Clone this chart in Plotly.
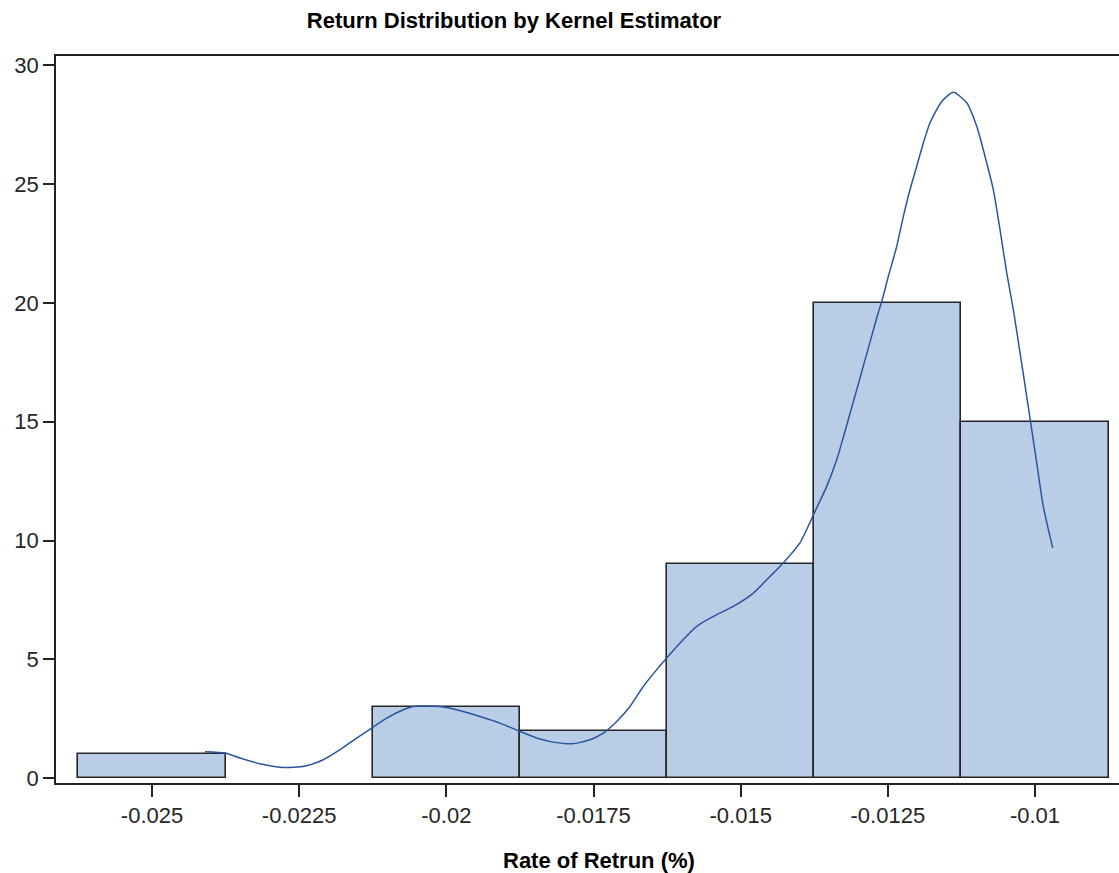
import plotly.graph_objects as go

# Histogram bins (centers) and counts
bin_centers = [-0.025, -0.0225, -0.02, -0.0175, -0.015, -0.0125, -0.01]
bin_counts = [1, 0, 3, 2, 9, 20, 15]
bin_width = 0.0025

# Kernel density curve
kde_x = [-0.02410, -0.02376, -0.023505, -0.023165, -0.022826, -0.02260, -0.022372,
         -0.02209, -0.021806, -0.021523, -0.021268, -0.021013, -0.020731, -0.020561,
         -0.020107, -0.019824, -0.019428, -0.019088, -0.018748, -0.018409, -0.018183,
         -0.017865, -0.017559, -0.017333, -0.017106, -0.01688, -0.016654, -0.016426,
         -0.016256, -0.01603, -0.015747, -0.015465, -0.015125, -0.014785, -0.014502,
         -0.014276, -0.013994, -0.013737, -0.013538, -0.013369, -0.013256, -0.013142,
         -0.013028, -0.012916, -0.012803, -0.012662, -0.012604, -0.012491, -0.012349,
         -0.012236, -0.012123, -0.012009, -0.011897, -0.011783, -0.011584, -0.011387,
         -0.01116, -0.01099, -0.01082, -0.010708, -0.010594, -0.01048, -0.010368,
         -0.010254, -0.010141, -0.010085, -0.009971, -0.009859, -0.009699]
kde_y = [1.12, 1.06, 0.85, 0.61, 0.46, 0.46, 0.53,
         0.78, 1.20, 1.69, 2.11, 2.53, 2.88, 3.02,
         3.02, 2.88, 2.60, 2.32, 1.97, 1.65, 1.52,
         1.45, 1.62, 1.90, 2.39, 3.02, 3.86, 4.57,
         5.06, 5.69, 6.39, 6.81, 7.23, 7.79, 8.49,
         9.06, 9.90, 11.23, 12.28, 13.40, 14.35, 15.35,
         16.35, 17.35, 18.35, 19.60, 20.05, 21.12, 22.38,
         23.64, 24.77, 25.75, 26.73, 27.58, 28.48, 28.86,
         28.42, 27.43, 25.89, 24.77, 23.08, 21.26, 19.72,
         17.90, 16.07, 15.15, 13.27, 11.44, 9.69]

x_tick_vals = [-0.025, -0.0225, -0.02, -0.0175, -0.015, -0.0125, -0.01]
x_tick_text = ["-0.025", "-0.0225", "-0.02", "-0.0175", "-0.015", "-0.0125", "-0.01"]
y_tick_vals = [0, 5, 10, 15, 20, 25, 30]

title_text = "Return Distribution by Kernel Estimator"
x_title = "Rate of Retrun (%)"

W, H = 1119, 873
ML, MR, MT, MB = 56, 0, 56, 90

bx = [c for c, n in zip(bin_centers, bin_counts) if n > 0]
by = [n for n in bin_counts if n > 0]

FONT = "Liberation Sans, Arial, sans-serif"

fig = go.Figure()
fig.add_trace(go.Bar(
    x=bx, y=by, width=bin_width,
    marker=dict(color="#B9CEE6", line=dict(color="#262626", width=1.6)),
    hoverinfo="skip", showlegend=False,
))
fig.add_trace(go.Scatter(
    x=kde_x, y=kde_y, mode="lines",
    line=dict(color="#2A559E", width=1.5, shape="spline", smoothing=0.6),
    hoverinfo="skip", showlegend=False,
))

fig.update_layout(
    width=W, height=H,
    margin=dict(l=ML, r=MR, t=MT, b=MB, pad=0),
    paper_bgcolor="white", plot_bgcolor="white",
    bargap=0,
    font=dict(family=FONT, size=22, color="#262626"),
    title=dict(text="<b>%s</b>" % title_text, xref="container", yref="container",
               x=514 / W, y=1 - 20 / H, xanchor="center", yanchor="middle",
               font=dict(family=FONT, size=22, color="#000000")),
    xaxis=dict(range=[-0.026631, -0.008573], tickvals=x_tick_vals, ticktext=x_tick_text,
               showgrid=False, zeroline=False, showline=True, linecolor="#222222",
               linewidth=1.8, mirror=True, ticks="outside", ticklen=12, tickwidth=1.5,
               tickcolor="#222222", tickfont=dict(size=22, color="#262626")),
    yaxis=dict(range=[-0.2, 30.39], tickvals=y_tick_vals,
               showgrid=False, zeroline=False, showline=True, linecolor="#222222",
               linewidth=1.8, ticks="outside", ticklen=11, tickwidth=1.5,
               tickcolor="#222222", tickfont=dict(size=22, color="#262626")),
    annotations=[dict(text="<b>%s</b>" % x_title, xref="paper", yref="paper",
                      x=(599 - ML) / (W - ML - MR), y=-(860 - (H - MB)) / (H - MT - MB),
                      xanchor="center", yanchor="middle", showarrow=False,
                      font=dict(family=FONT, size=22, color="#000000"))],
)

fig.write_html("out.html", config={"displayModeBar": False},
               post_script="document.body.style.margin='0';document.body.style.overflow='hidden';")
